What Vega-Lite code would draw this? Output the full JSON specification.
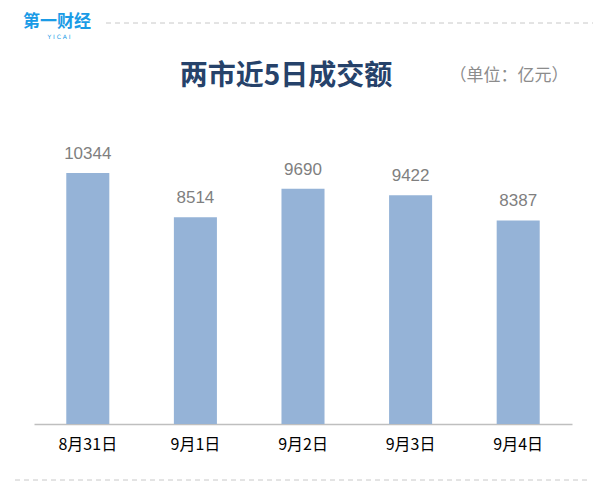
{
  "$schema": "https://vega.github.io/schema/vega-lite/v6.json",
  "autosize": "none",
  "width": 538,
  "height": 301,
  "padding": {"left": 34, "top": 123, "right": 31, "bottom": 79},
  "background": "white",
  "config": {"view": {"stroke": null}, "font": "Noto Sans CJK SC"},
  "data": {
    "values": [
      {"date": "8月31日", "value": 10344},
      {"date": "9月1日", "value": 8514},
      {"date": "9月2日", "value": 9690},
      {"date": "9月3日", "value": 9422},
      {"date": "9月4日", "value": 8387}
    ]
  },
  "layer": [
    {
      "mark": {"type": "bar", "color": "#95b3d7"},
      "encoding": {
        "x": {
          "field": "date",
          "type": "nominal",
          "sort": null,
          "scale": {"paddingInner": 0.6, "paddingOuter": 0.3},
          "axis": {
            "title": null,
            "labelAngle": 0,
            "ticks": false,
            "domainColor": "#bfbfbf",
            "domainWidth": 1.5,
            "labelColor": "#000000",
            "labelFontSize": 16,
            "labelPadding": 12,
            "labelFont": "Noto Sans CJK SC"
          }
        },
        "y": {
          "field": "value",
          "type": "quantitative",
          "scale": {"domain": [0, 12400], "nice": false},
          "axis": null
        }
      }
    },
    {
      "mark": {"type": "text", "baseline": "alphabetic", "dy": -14, "fontSize": 17, "color": "#7f7f7f", "font": "Liberation Sans"},
      "encoding": {
        "x": {"field": "date", "type": "nominal", "sort": null},
        "y": {"field": "value", "type": "quantitative"},
        "text": {"field": "value", "type": "quantitative", "format": "d"}
      }
    },
    {
      "data": {"values": [{"pos": "top"}]},
      "mark": {"type": "rule", "strokeDash": [5, 4], "color": "#c8c8c8", "strokeWidth": 1},
      "encoding": {"x": {"value": 72}, "x2": {"value": 559}, "y": {"value": -100}}
    },
    {
      "data": {"values": [{"pos": "bottom"}]},
      "mark": {"type": "rule", "strokeDash": [5, 4], "color": "#c8c8c8", "strokeWidth": 1},
      "encoding": {"x": {"value": -19}, "x2": {"value": 556}, "y": {"value": 357}}
    },
    {
      "data": {"values": [{"label": "两市近5日成交额"}]},
      "mark": {"type": "text", "fontSize": 28, "fontWeight": "bold", "color": "#26426a", "align": "center", "baseline": "alphabetic"},
      "encoding": {"x": {"value": 252}, "y": {"value": -38}, "text": {"field": "label"}}
    },
    {
      "data": {"values": [{"label": "（单位：亿元）"}]},
      "mark": {"type": "text", "fontSize": 17, "color": "#8c8c8c", "align": "center", "baseline": "alphabetic"},
      "encoding": {"x": {"value": 475}, "y": {"value": -42}, "text": {"field": "label"}}
    },
    {
      "data": {"values": [{"label": "第一财经"}]},
      "mark": {"type": "text", "fontSize": 17, "fontWeight": "bold", "color": "#1a9be6", "align": "left", "baseline": "alphabetic"},
      "encoding": {"x": {"value": -11}, "y": {"value": -96}, "text": {"field": "label"}}
    },
    {
      "data": {"values": [{"label": "Y    I    C    A    I"}]},
      "mark": {"type": "text", "fontSize": 6, "color": "#1a9be6", "align": "center", "baseline": "alphabetic", "font": "DejaVu Sans"},
      "encoding": {"x": {"value": 25}, "y": {"value": -84}, "text": {"field": "label"}}
    }
  ]
}
